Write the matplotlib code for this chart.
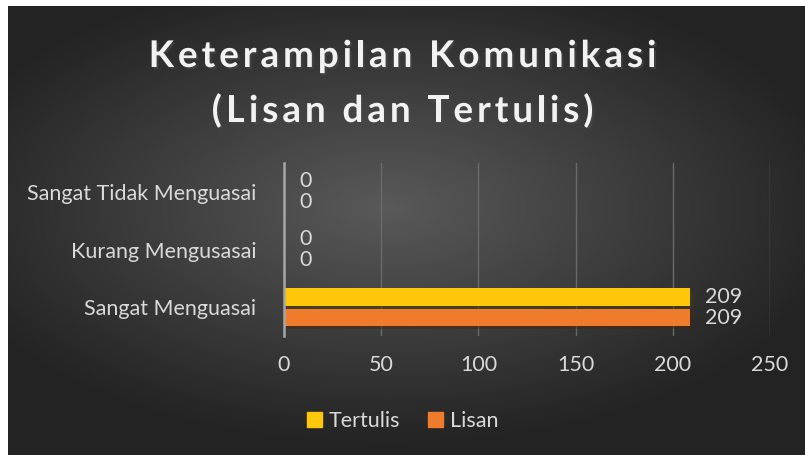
import matplotlib.pyplot as plt
import matplotlib.patheffects as pe
from matplotlib.patches import Patch
from matplotlib.font_manager import FontProperties
import numpy as np

categories = ['Sangat Menguasai', 'Kurang Mengusasai', 'Sangat Tidak Menguasai']
tertulis = [209, 0, 0]
lisan = [209, 0, 0]
series_names = ['Tertulis', 'Lisan']
xticks = [0, 50, 100, 150, 200, 250]
title_lines = ['Keterampilan Komunikasi', '(Lisan dan Tertulis)']

plt.rcParams['font.family'] = ['Lato', 'DejaVu Sans']

fig = plt.figure(figsize=(8.05, 4.55), dpi=100)
fig.patch.set_facecolor('white')

# radial gradient background
bg = fig.add_axes([8 / 805, 0, 1 - 8 / 805, 1 - 6 / 455])
bg.set_axis_off()
gx, gy = np.meshgrid(np.linspace(-1, 1, 400), np.linspace(-1, 1, 240))
r = np.sqrt(((gx + 0.05) / 1.1) ** 2 + ((gy + 0.1) / 1.0) ** 2)
shade = np.clip(0.35 - 0.2 * r, 0.14, 0.35)
bg.imshow(np.dstack([shade, shade, shade]), aspect='auto', extent=[0, 1, 0, 1])

ax = fig.add_axes([284 / 805, 1 - 336 / 455, (770 - 284) / 805, (336 - 163) / 455])
ax.patch.set_alpha(0)

y = np.arange(len(categories))
h = 0.31
off = 0.18
shadow = [pe.SimplePatchShadow(offset=(2, -2), alpha=0.5), pe.Normal()]
b1 = ax.barh(y + off, tertulis, height=h, color='#FFC70A', zorder=3, path_effects=shadow)
b2 = ax.barh(y - off, lisan, height=h, color='#EF7B2C', zorder=3, path_effects=shadow)

for bars in (b1, b2):
    for rect in bars:
        w = rect.get_width()
        ax.annotate(str(int(w)), (w, rect.get_y() + rect.get_height() / 2),
                    xytext=(15, 0), textcoords='offset pixels',
                    va='center', ha='left', color='#d9d9d9', fontsize=15.5)

ax.set_xlim(0, 250)
ax.set_ylim(-0.5, 2.5)
ax.set_xticks(xticks)
ax.set_yticks(y)
ax.set_yticklabels(categories)
ax.tick_params(axis='both', length=0, colors='#d9d9d9', labelsize=15.5)
ax.tick_params(axis='x', pad=14)
ax.tick_params(axis='y', pad=20)
ax.grid(axis='x', color='#6a6a6a', linewidth=1, zorder=0)
for s in ['top', 'right', 'bottom']:
    ax.spines[s].set_visible(False)
ax.spines['left'].set_color('#a6a6a6')
ax.spines['left'].set_linewidth(1.8)
ax.spines['left'].set_zorder(4)

# title with letter spacing, drawn char by char
renderer = fig.canvas.get_renderer()
tprop = FontProperties(family=['Lato', 'DejaVu Sans'], weight='bold', size=26.5)
spacing = 4.0
W, H = 805, 455


def text_w(s):
    if not s:
        return 0.0
    return renderer.get_text_width_height_descent(s, tprop, ismath=False)[0]


for i, line in enumerate(title_lines):
    starts = [text_w(line[:k + 1]) - text_w(line[k]) + k * spacing for k in range(len(line))]
    total = text_w(line) + (len(line) - 1) * spacing
    x0 = W / 2 - total / 2
    base = [67, 122][i]
    for k, ch in enumerate(line):
        if ch == ' ':
            continue
        fig.text((x0 + starts[k]) / W, 1 - base / H, ch, fontproperties=tprop,
                 ha='left', va='baseline', color='#f2f2f2',
                 path_effects=[pe.withSimplePatchShadow(offset=(1.5, -1.5), alpha=0.6)])

handles = [Patch(color='#FFC70A'), Patch(color='#EF7B2C')]
leg = fig.legend(handles, series_names, loc='center', bbox_to_anchor=(0.5, 1 - 421 / 455),
                 ncol=2, frameon=False, fontsize=15.5, labelcolor='#d9d9d9',
                 handlelength=0.7, handleheight=0.7, handletextpad=0.3, columnspacing=1.3)

fig.savefig('out.png', dpi=100)
